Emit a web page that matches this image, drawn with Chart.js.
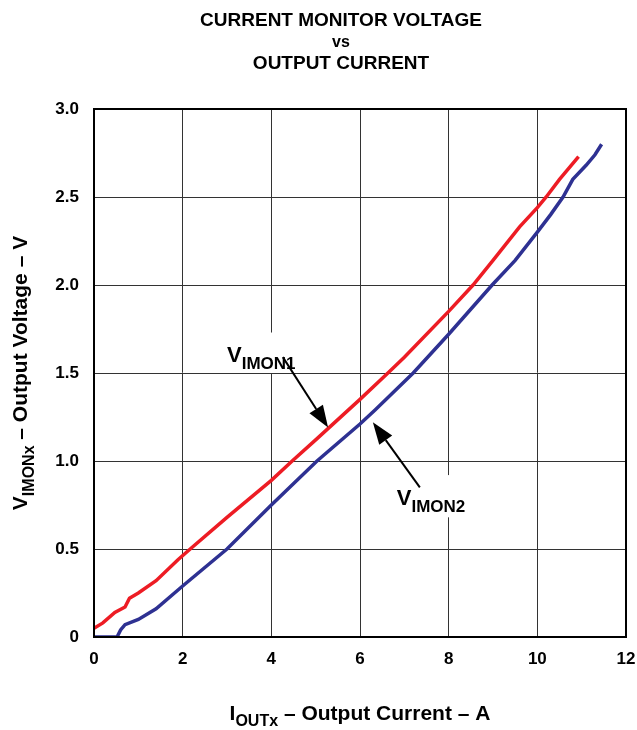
<!DOCTYPE html>
<html>
<head>
<meta charset="utf-8">
<script src="https://cdn.jsdelivr.net/npm/chart.js@4.4.0/dist/chart.umd.min.js"></script>
<style>
  html, body { margin: 0; padding: 0; background: #fff; }
  #wrap { width: 637px; height: 730px; }
</style>
</head>
<body>
<div id="wrap"><canvas id="imonChart" width="637" height="730"></canvas></div>
<script>
// Current monitor voltage vs output current
const imon1Current = [0, 0.2, 0.47, 0.7, 0.8, 1.0, 1.4, 1.9, 2.17, 3, 4, 4.47, 5, 6, 6.63, 7, 8, 8.55, 9, 9.6, 10, 10.2, 10.5, 10.93];
const imon1Voltage = [0.05, 0.08, 0.14, 0.17, 0.22, 0.25, 0.32, 0.44, 0.5, 0.68, 0.89, 1.0, 1.12, 1.35, 1.5, 1.59, 1.85, 2.0, 2.14, 2.33, 2.44, 2.5, 2.6, 2.73];

const imon2Current = [0, 0.52, 0.6, 0.7, 1.0, 1.4, 2, 3, 4, 5.03, 6, 6.34, 7.2, 8, 8.98, 9.5, 10, 10.3, 10.58, 10.8, 11.1, 11.3, 11.45];
const imon2Voltage = [0, 0, 0.04, 0.07, 0.1, 0.16, 0.29, 0.5, 0.75, 1.0, 1.21, 1.29, 1.5, 1.72, 2.0, 2.14, 2.3, 2.4, 2.5, 2.6, 2.68, 2.74, 2.8];

const xTickValues = [0, 2, 4, 6, 8, 10, 12];
const yTickValues = [0, 0.5, 1.0, 1.5, 2.0, 2.5, 3.0];

const titleLines = ['CURRENT MONITOR VOLTAGE', 'vs', 'OUTPUT CURRENT'];

const toPoints = (xs, ys) => xs.map((x, i) => ({x: x, y: ys[i]}));

const FONT = '"Liberation Sans", Arial, Helvetica, sans-serif';

// draw text made of [string, size, dy] pieces; returns total width
function pieceWidth(ctx, pieces) {
    let w = 0;
    for (const [t, size] of pieces) {
        ctx.font = 'bold ' + size + 'px ' + FONT;
        w += ctx.measureText(t).width;
    }
    return w;
}
function drawPieces(ctx, pieces, x, y) {
    ctx.textAlign = 'left';
    ctx.textBaseline = 'alphabetic';
    for (const [t, size, dy] of pieces) {
        ctx.font = 'bold ' + size + 'px ' + FONT;
        ctx.fillText(t, x, y + dy);
        x += ctx.measureText(t).width;
    }
}

function drawArrow(ctx, x1, y1, x2, y2) {
    const ang = Math.atan2(y2 - y1, x2 - x1);
    const headLen = 22, headHalf = 8;
    const bx = x2 - headLen * Math.cos(ang), by = y2 - headLen * Math.sin(ang);
    ctx.strokeStyle = '#000';
    ctx.lineWidth = 2;
    ctx.beginPath();
    ctx.moveTo(x1, y1);
    ctx.lineTo(bx, by);
    ctx.stroke();
    ctx.fillStyle = '#000';
    ctx.beginPath();
    ctx.moveTo(x2, y2);
    ctx.lineTo(bx + headHalf * Math.sin(ang), by - headHalf * Math.cos(ang));
    ctx.lineTo(bx - headHalf * Math.sin(ang), by + headHalf * Math.cos(ang));
    ctx.closePath();
    ctx.fill();
}

// labels with arrows, positions in data units
const callouts = [
    {box: [2.91, 1.73, 4.69, 1.5], text: [3.0, 1.5625], sub: 'IMON1', tail: [4.26, 1.59], tip: [5.28, 1.19]},
    {box: [6.79, 0.92, 8.48, 0.68], text: [6.83, 0.75], sub: 'IMON2', tail: [7.35, 0.85], tip: [6.29, 1.22]},
];

const decorPlugin = {
    id: 'decor',
    afterDatasetsDraw(chart) {
        const ctx = chart.ctx;
        const xs = chart.scales.x, ys = chart.scales.y;
        const area = chart.chartArea;
        ctx.save();

        for (const c of callouts) {
            const bx1 = xs.getPixelForValue(c.box[0]), by1 = ys.getPixelForValue(c.box[1]);
            const bx2 = xs.getPixelForValue(c.box[2]), by2 = ys.getPixelForValue(c.box[3]);
            ctx.fillStyle = '#fff';
            ctx.fillRect(bx1, by1, bx2 - bx1, by2 - by1);
            ctx.fillStyle = '#000';
            drawPieces(ctx, [['V', 22, 0], [c.sub, 17, 7]],
                xs.getPixelForValue(c.text[0]), ys.getPixelForValue(c.text[1]));
            drawArrow(ctx,
                xs.getPixelForValue(c.tail[0]), ys.getPixelForValue(c.tail[1]),
                xs.getPixelForValue(c.tip[0]), ys.getPixelForValue(c.tip[1]));
        }

        // frame around the plot
        ctx.strokeStyle = '#000';
        ctx.lineWidth = 2;
        ctx.strokeRect(area.left, area.top, area.right - area.left, area.bottom - area.top);
        ctx.restore();
    },
    afterDraw(chart) {
        const ctx = chart.ctx;
        const area = chart.chartArea;
        ctx.save();
        ctx.fillStyle = '#000';

        // title
        ctx.textAlign = 'center';
        ctx.textBaseline = 'alphabetic';
        ctx.font = 'bold 19px ' + FONT;
        ctx.fillText(titleLines[0], 341, 26);
        ctx.font = 'bold 16px ' + FONT;
        ctx.fillText(titleLines[1], 341, 47);
        ctx.font = 'bold 19px ' + FONT;
        ctx.fillText(titleLines[2], 341, 69);

        // x axis title
        const xPieces = [['I', 21, 0], ['OUTx', 16, 6], [' \u2013 Output Current \u2013 A', 21, 0]];
        const xw = pieceWidth(ctx, xPieces);
        drawPieces(ctx, xPieces, (area.left + area.right) / 2 - xw / 2, 720);

        // y axis title (rotated)
        const yPieces = [['V', 21, 0], ['IMONx', 16, 7], [' \u2013 Output Voltage \u2013 V', 21, 0]];
        const yw = pieceWidth(ctx, yPieces);
        ctx.translate(27, (area.top + area.bottom) / 2);
        ctx.rotate(-Math.PI / 2);
        drawPieces(ctx, yPieces, -yw / 2, 0);
        ctx.restore();
    }
};

const imonCtx = document.getElementById('imonChart').getContext('2d');

new Chart(imonCtx, {
    type: 'scatter',
    data: {
        datasets: [
            {
                label: 'VIMON1',
                data: toPoints(imon1Current, imon1Voltage),
                showLine: true,
                borderColor: 'rgb(237, 28, 36)',
                borderWidth: 3.5,
                pointRadius: 0,
                tension: 0,
            },
            {
                label: 'VIMON2',
                data: toPoints(imon2Current, imon2Voltage),
                showLine: true,
                borderColor: 'rgb(46, 49, 146)',
                borderWidth: 3.5,
                pointRadius: 0,
                tension: 0,
            },
        ],
    },
    options: {
        responsive: false,
        animation: false,
        layout: {padding: {top: 109, right: 11, left: 0, bottom: 0}},
        plugins: {
            legend: {display: false},
            title: {display: false},
            tooltip: {enabled: false},
        },
        scales: {
            x: {
                type: 'linear',
                min: 0,
                max: 12,
                afterFit: s => { s.height = 93; s.paddingRight = 0; s.paddingLeft = 0; },
                afterBuildTicks: s => { s.ticks = xTickValues.map(v => ({value: v})); },
                ticks: {
                    color: '#000',
                    padding: 12,
                    font: {family: FONT, size: 17, weight: 'bold'},
                    callback: v => String(v),
                },
                grid: {color: '#333', lineWidth: 1, drawTicks: false},
                border: {color: '#000', width: 2},
            },
            y: {
                type: 'linear',
                min: 0,
                max: 3,
                afterFit: s => { s.width = 94; s.paddingTop = 0; s.paddingBottom = 0; },
                afterBuildTicks: s => { s.ticks = yTickValues.map(v => ({value: v})); },
                ticks: {
                    color: '#000',
                    padding: 15,
                    font: {family: FONT, size: 17, weight: 'bold'},
                    callback: v => (v === 0 ? '0' : v.toFixed(1)),
                },
                grid: {color: '#333', lineWidth: 1, drawTicks: false},
                border: {color: '#000', width: 2},
            },
        },
    },
    plugins: [decorPlugin],
});
</script>
</body>
</html>
